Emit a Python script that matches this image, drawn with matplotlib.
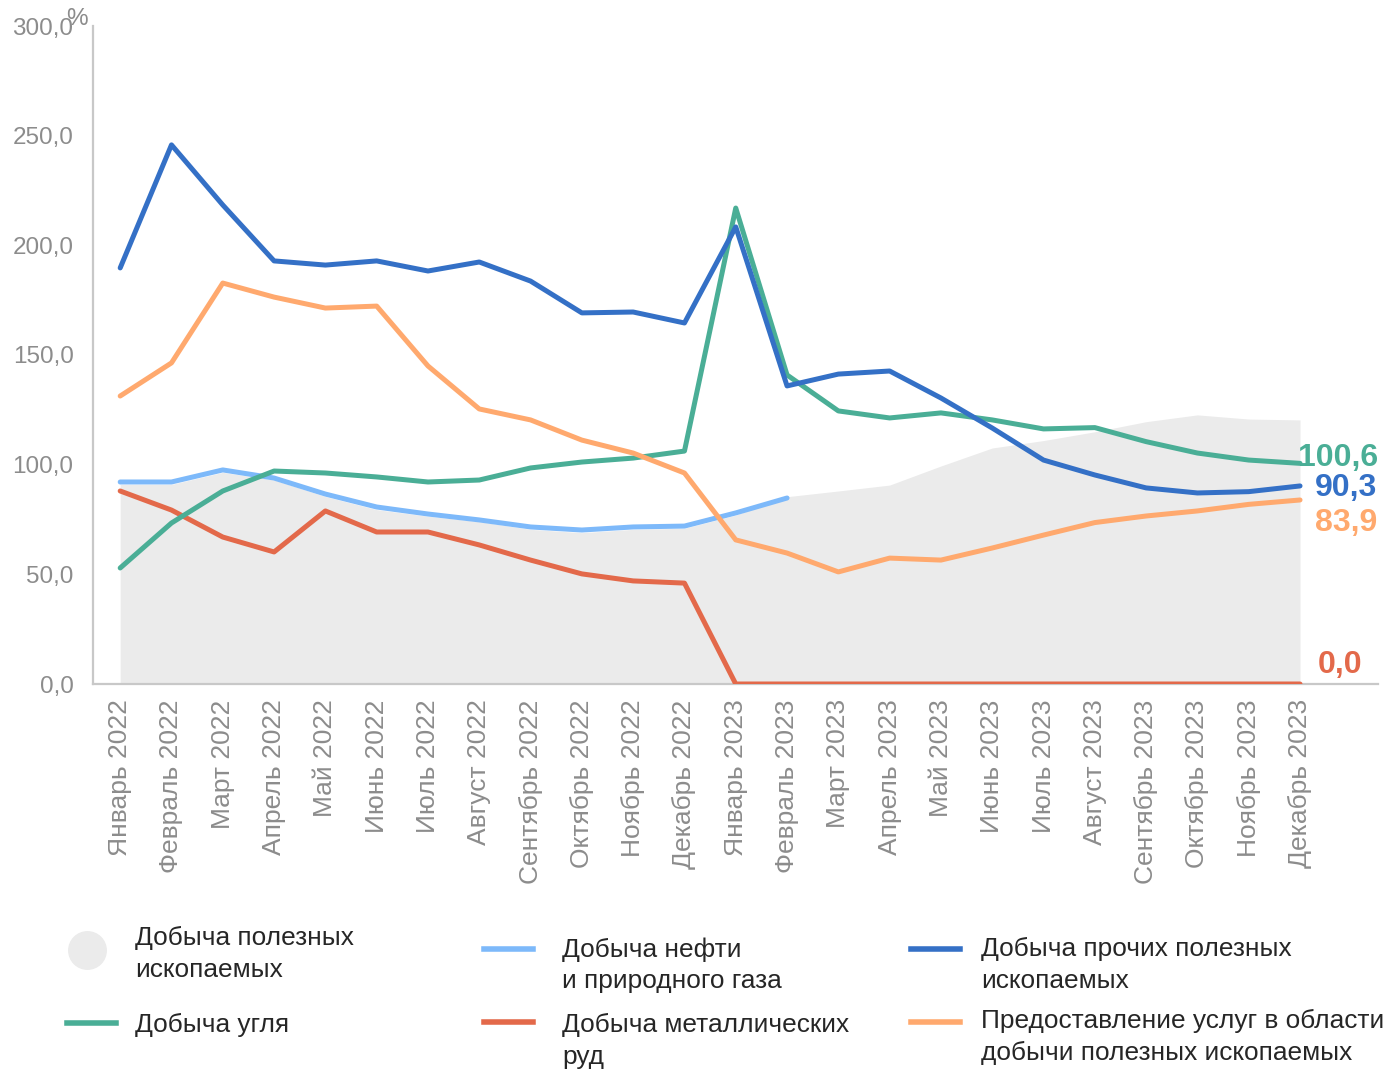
import matplotlib.pyplot as plt
import numpy as np
from matplotlib.lines import Line2D

plt.rcParams['font.family'] = ['Liberation Sans', 'DejaVu Sans']

months = ['Январь 2022', 'Февраль 2022', 'Март 2022', 'Апрель 2022', 'Май 2022', 'Июнь 2022',
          'Июль 2022', 'Август 2022', 'Сентябрь 2022', 'Октябрь 2022', 'Ноябрь 2022', 'Декабрь 2022',
          'Январь 2023', 'Февраль 2023', 'Март 2023', 'Апрель 2023', 'Май 2023', 'Июнь 2023',
          'Июль 2023', 'Август 2023', 'Сентябрь 2023', 'Октябрь 2023', 'Ноябрь 2023', 'Декабрь 2023']

# total mining (grey area)
mining_total = [91.0, 91.0, 96.5, 93.0, 85.5, 79.5, 76.5, 74.0, 70.5, 69.0, 70.5, 71.0,
                77.0, 85.4, 88.0, 90.7, 99.4, 107.6, 111.0, 115.0, 119.6, 122.7, 120.8, 120.4]
# coal
coal = [52.9, 73.4, 88.0, 97.1, 96.2, 94.4, 92.1, 93.0, 98.5, 101.2, 103.0, 106.2,
        217.0, 140.9, 124.5, 121.3, 123.6, 120.4, 116.3, 116.9, 110.5, 105.3, 102.1, 100.6]
# oil and gas (data ends Feb 2023)
oil_gas = [92.1, 92.1, 97.6, 93.9, 86.6, 80.7, 77.5, 74.8, 71.6, 70.2, 71.6, 72.0,
           78.0, 84.8]
# metal ores
metal = [88.0, 79.3, 67.0, 60.2, 78.9, 69.3, 69.3, 63.4, 56.5, 50.2, 47.0, 46.0,
         0.0, 0.0, 0.0, 0.0, 0.0, 0.0, 0.0, 0.0, 0.0, 0.0, 0.0, 0.0]
# other minerals
other = [189.7, 245.8, 218.4, 192.9, 191.0, 192.9, 188.3, 192.4, 183.7, 169.2, 169.6, 164.6,
         208.4, 135.9, 141.3, 142.7, 130.4, 116.7, 102.1, 95.3, 89.4, 87.1, 87.7, 90.3]
# mining support services
services = [131.3, 146.4, 182.8, 176.4, 171.4, 172.3, 145.0, 125.4, 120.4, 111.2, 105.3, 96.2,
            65.7, 59.7, 51.1, 57.4, 56.5, 62.0, 67.9, 73.6, 76.6, 78.9, 81.9, 83.9]

yticks = [0, 50, 100, 150, 200, 250, 300]

c_area = '#EBEBEB'
c_coal = '#4AAE96'
c_oil = '#7DB9FA'
c_metal = '#E3694A'
c_other = '#3470C6'
c_serv = '#FFA96E'

W, H = 1384, 1071
fig = plt.figure(figsize=(W / 100, H / 100), dpi=100)
ax = fig.add_axes([93 / W, 1 - 684 / H, (1378 - 93) / W, (684 - 26) / H])

x = np.arange(len(months))
ax.fill_between(x, 0, mining_total, color=c_area, lw=0, zorder=1)
lw = 3.6
ax.plot(x[:len(oil_gas)], oil_gas, color=c_oil, lw=lw, solid_capstyle='round', zorder=3)
ax.plot(x, metal, color=c_metal, lw=lw, solid_capstyle='round', zorder=3)
ax.plot(x, coal, color=c_coal, lw=lw, solid_capstyle='round', zorder=4)
ax.plot(x, services, color=c_serv, lw=lw, solid_capstyle='round', zorder=4)
ax.plot(x, other, color=c_other, lw=lw, solid_capstyle='round', zorder=5)

ax.set_xlim(-0.53, 24.52)
ax.set_ylim(0, 300)
ax.set_yticks(yticks)
ax.set_yticklabels([f'{v:.1f}'.replace('.', ',') for v in yticks])
ax.set_xticks(x)
ax.set_xticklabels(months, rotation=90)
ax.tick_params(axis='y', length=0, pad=14, labelsize=17.5, labelcolor='#8C8C8C')
ax.tick_params(axis='x', length=0, pad=11, labelsize=19, labelcolor='#8C8C8C')
for s in ['top', 'right']:
    ax.spines[s].set_visible(False)
ax.spines['left'].set_color('#C8C8C8')
ax.spines['left'].set_linewidth(1.6)
ax.spines['bottom'].set_color('#C8C8C8')
ax.spines['bottom'].set_linewidth(1.6)

# unit sign sits over the top tick label, as in the original
fig.text(66 / W, 1 - 19 / H, '%', fontsize=17.5, color='#8C8C8C', ha='left', va='center')

# end value labels
ends = [(coal[-1], c_coal, 458, 1378), (other[-1], c_other, 488, 1377),
        (services[-1], c_serv, 523, 1377), (metal[-1], c_metal, 665, 1362)]
for val, col, ypx, xr in ends:
    fig.text(xr / W, 1 - ypx / H, f'{val:.1f}'.replace('.', ','), color=col, fontsize=23,
             fontweight='bold', ha='right', va='center')

# legend
leg_fs = 18.9
txt_col = '#262626'
def leg_line(x0, ypx, col):
    fig.add_artist(Line2D([x0 / W, (x0 + 49) / W], [1 - ypx / H, 1 - ypx / H], color=col, lw=4,
                          transform=fig.transFigure))

def leg_text(x0, ytop, s):
    fig.text(x0 / W, 1 - ytop / H, s, fontsize=leg_fs, color=txt_col, ha='left', va='top', linespacing=1.4)

fig.add_artist(Line2D([87 / W], [1 - 950 / H], marker='o', markersize=27, color=c_area, lw=0,
                      transform=fig.transFigure))
leg_text(135, 926, 'Добыча полезных\nископаемых')
leg_line(67, 1023, c_coal)
leg_text(135, 1013, 'Добыча угля')
leg_line(484, 949, c_oil)
leg_text(562, 937, 'Добыча нефти\nи природного газа')
leg_line(484, 1022, c_metal)
leg_text(562, 1013, 'Добыча металлических\nруд')
leg_line(911, 949, c_other)
leg_text(981, 937, 'Добыча прочих полезных\nископаемых')
leg_line(911, 1022, c_serv)
leg_text(981, 1009, 'Предоставление услуг в области\nдобычи полезных ископаемых')

fig.savefig('out.png', dpi=100)
